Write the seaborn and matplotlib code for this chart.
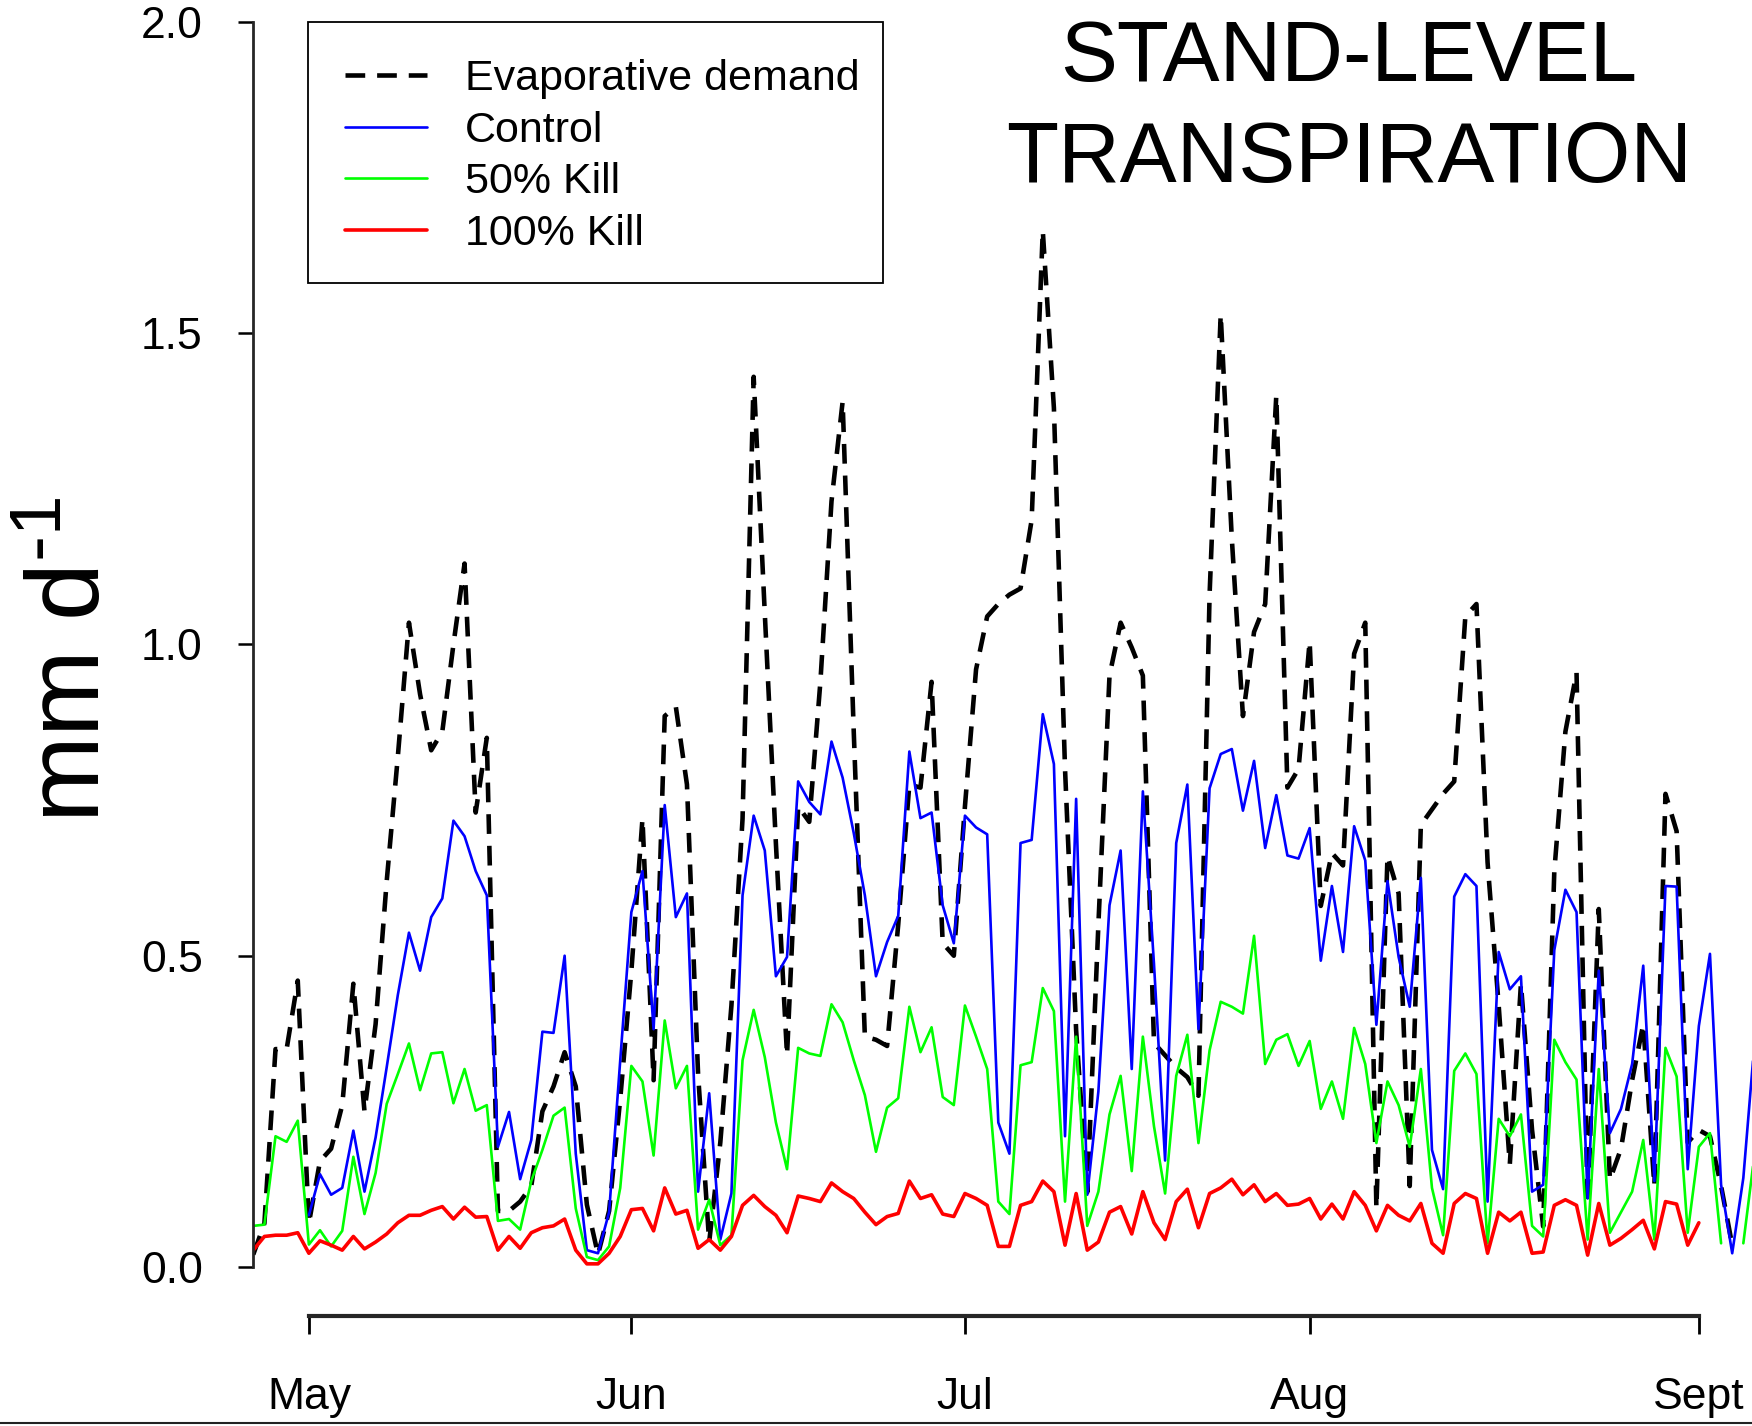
import numpy as np
import pandas as pd
import matplotlib
matplotlib.use("Agg")
import matplotlib.pyplot as plt
from matplotlib.lines import Line2D
from matplotlib.patches import Rectangle
import seaborn as sns

nan = np.nan

# daily values, mm d-1 (one value per day, index 0 = late April)
evap = [0.02, 0.07, 0.35, 0.35, 0.46, 0.07, 0.17, 0.19, 0.26, 0.455,
        0.25, 0.39, 0.62, 0.82, 1.035, 0.92, 0.83, 0.86, 1.00, 1.13,
        0.73, 0.85, 0.09, 0.09, 0.105, 0.13, 0.25, 0.29, 0.345, 0.29,
        0.10, 0.02, 0.09, 0.27, 0.475, 0.72, 0.30, 0.885, 0.90, 0.775,
        0.31, 0.04, 0.20, 0.42, 0.72, 1.43, 1.05, 0.68, 0.34, 0.74,
        0.715, 0.94, 1.23, 1.39, 0.86, 0.37, 0.365, 0.355, 0.55, 0.775,
        0.77, 0.94, 0.52, 0.50, 0.74, 0.96, 1.045, 1.065, 1.08, 1.09,
        1.20, 1.665, 1.38, 0.80, 0.38, 0.12, 0.55, 0.95, 1.035, 0.995,
        0.95, 0.36, 0.34, 0.32, 0.305, 0.275, 1.08, 1.53, 1.17, 0.885,
        1.02, 1.065, 1.40, 0.77, 0.80, 1.005, 0.58, 0.665, 0.645, 0.985,
        1.035, 0.095, 0.66, 0.60, 0.13, 0.71, 0.735, 0.76, 0.78, 1.045,
        1.065, 0.65, 0.42, 0.165, 0.455, 0.22, 0.065, 0.635, 0.86, 0.955,
        0.10, 0.575, 0.14, 0.19, 0.30, 0.39, 0.13, 0.76, 0.70, 0.20,
        0.22, 0.21, 0.13, 0.035, nan, nan]

control = [nan, nan, nan, nan, nan, 0.083, 0.149, 0.116, 0.127, 0.219,
           0.121, 0.208, 0.321, 0.437, 0.537, 0.476, 0.562, 0.592, 0.717, 0.692,
           0.636, 0.597, 0.193, 0.249, 0.141, 0.204, 0.378, 0.376, 0.500, 0.182,
           0.027, 0.022, 0.088, 0.332, 0.570, 0.636, 0.382, 0.742, 0.562, 0.600,
           0.121, 0.279, 0.044, 0.118, 0.597, 0.725, 0.669, 0.467, 0.498, 0.780,
           0.747, 0.727, 0.844, 0.786, 0.697, 0.597, 0.467, 0.522, 0.564, 0.828,
           0.721, 0.730, 0.581, 0.520, 0.725, 0.706, 0.695, 0.232, 0.182, 0.681,
           0.686, 0.888, 0.808, 0.210, 0.752, 0.116, 0.282, 0.581, 0.669, 0.318,
           0.764, 0.487, 0.171, 0.681, 0.775, 0.382, 0.769, 0.824, 0.832, 0.733,
           0.813, 0.673, 0.758, 0.661, 0.656, 0.705, 0.492, 0.612, 0.506, 0.708,
           0.653, 0.389, 0.620, 0.498, 0.418, 0.625, 0.188, 0.125, 0.595, 0.631,
           0.612, 0.105, 0.506, 0.446, 0.467, 0.121, 0.132, 0.509, 0.606, 0.570,
           0.110, 0.476, 0.215, 0.254, 0.326, 0.484, 0.138, 0.612, 0.611, 0.157,
           0.387, 0.503, 0.132, 0.022, 0.143, 0.359]

kill50 = [0.066, 0.068, 0.210, 0.201, 0.235, 0.036, 0.059, 0.033, 0.058, 0.177,
          0.085, 0.151, 0.262, 0.310, 0.359, 0.284, 0.343, 0.345, 0.263, 0.318,
          0.251, 0.260, 0.074, 0.077, 0.060, 0.138, 0.188, 0.243, 0.256, 0.094,
          0.016, 0.011, 0.033, 0.127, 0.323, 0.298, 0.179, 0.396, 0.287, 0.323,
          0.060, 0.108, 0.035, 0.051, 0.332, 0.413, 0.337, 0.232, 0.157, 0.352,
          0.343, 0.339, 0.422, 0.393, 0.332, 0.276, 0.185, 0.256, 0.271, 0.418,
          0.345, 0.385, 0.273, 0.260, 0.420, 0.370, 0.318, 0.105, 0.085, 0.324,
          0.329, 0.448, 0.411, 0.105, 0.370, 0.066, 0.121, 0.245, 0.307, 0.154,
          0.370, 0.226, 0.118, 0.307, 0.373, 0.199, 0.348, 0.426, 0.418, 0.407,
          0.532, 0.326, 0.365, 0.374, 0.323, 0.363, 0.254, 0.298, 0.238, 0.384,
          0.326, 0.199, 0.298, 0.260, 0.193, 0.318, 0.127, 0.051, 0.315, 0.343,
          0.310, 0.038, 0.238, 0.210, 0.245, 0.066, 0.049, 0.365, 0.329, 0.301,
          0.044, 0.318, 0.055, 0.088, 0.121, 0.204, 0.044, 0.352, 0.306, 0.055,
          0.193, 0.215, 0.038, nan, 0.038, 0.18]

kill100 = [0.027, 0.049, 0.051, 0.051, 0.055, 0.022, 0.042, 0.035, 0.027, 0.049,
           0.029, 0.040, 0.053, 0.071, 0.083, 0.083, 0.091, 0.097, 0.077, 0.096,
           0.080, 0.081, 0.027, 0.049, 0.030, 0.055, 0.063, 0.066, 0.077, 0.027,
           0.005, 0.005, 0.022, 0.049, 0.092, 0.094, 0.058, 0.127, 0.085, 0.091,
           0.030, 0.044, 0.027, 0.049, 0.099, 0.115, 0.097, 0.083, 0.055, 0.114,
           0.110, 0.105, 0.135, 0.121, 0.110, 0.088, 0.068, 0.081, 0.086, 0.138,
           0.110, 0.116, 0.085, 0.081, 0.118, 0.110, 0.099, 0.033, 0.033, 0.099,
           0.105, 0.138, 0.121, 0.035, 0.118, 0.027, 0.040, 0.088, 0.097, 0.053,
           0.121, 0.071, 0.044, 0.105, 0.125, 0.063, 0.118, 0.127, 0.141, 0.116,
           0.132, 0.105, 0.118, 0.099, 0.101, 0.110, 0.077, 0.101, 0.077, 0.121,
           0.099, 0.058, 0.099, 0.083, 0.074, 0.102, 0.038, 0.022, 0.102, 0.118,
           0.110, 0.022, 0.088, 0.074, 0.088, 0.022, 0.024, 0.099, 0.108, 0.099,
           0.019, 0.102, 0.035, 0.046, 0.060, 0.075, 0.029, 0.105, 0.101, 0.035,
           0.071, nan, nan, nan, nan, nan]

month_pos = [5, 34, 64, 95, 130]
month_labels = ["May", "Jun", "Jul", "Aug", "Sept"]
y_ticks = [0.0, 0.5, 1.0, 1.5, 2.0]

sns.set_theme(style="ticks")
plt.rcParams["font.family"] = ["Liberation Sans", "DejaVu Sans"]
plt.rcParams["mathtext.default"] = "regular"
plt.rcParams["text.color"] = "black"

W, H = 1752, 1426
fig = plt.figure(figsize=(W / 100, H / 100), dpi=100)
ax = fig.add_axes([252.5 / W, 0.0897, 1 - 252.5 / W, 0.8949])

days = np.arange(len(evap))
series = [
    ("Evaporative demand", evap, "black", 3.3, (0, (4.3, 2.6))),
    ("Control", control, "#0000ff", 1.9, "-"),
    ("50% Kill", kill50, "#00ff00", 1.9, "-"),
    ("100% Kill", kill100, "#ff0000", 2.6, "-"),
]

for name, vals, col, lw, ls in series:
    d = pd.DataFrame({"day": days, "value": vals})
    d["seg"] = d["value"].isna().cumsum()
    d = d.dropna()
    sns.lineplot(data=d, x="day", y="value", units="seg", estimator=None,
                 color=col, lw=lw, linestyle=ls, label=name, legend=False, ax=ax)

ax.set_xlim(-0.07, 134.78)
ax.set_ylim(-0.05, 2.0)
ax.set_xlabel("")
ax.set_ylabel("")

ax.spines[["top", "right"]].set_visible(False)
ax.spines["left"].set_bounds(0, 2)
ax.spines["left"].set_linewidth(2)
ax.spines["bottom"].set_bounds(month_pos[0], month_pos[-1])
ax.spines["bottom"].set_position(("outward", 13))
ax.spines["bottom"].set_linewidth(3)

ax.set_yticks(y_ticks, labels=[f"{v:.1f}" for v in y_ticks])
ax.set_xticks(month_pos, labels=month_labels)
ax.tick_params(axis="y", length=10.8, width=1.8, pad=25, labelsize=32,
               direction="out", color="black", labelcolor="black")
ax.tick_params(axis="x", length=13, width=2, pad=31, labelsize=32,
               direction="out", color="black", labelcolor="black")

# legend, one entry per series; box drawn separately like R's legend()
h, l = ax.get_legend_handles_labels()
uniq = dict(zip(l, h))
leg = ax.legend(uniq.values(), uniq.keys(), loc="upper left",
                bbox_to_anchor=(308 / W, 1 - 22 / H), bbox_transform=fig.transFigure,
                fontsize=31, frameon=False, handlelength=1.9, handletextpad=0.88,
                labelspacing=0.27, borderpad=0.86, borderaxespad=0,
                labelcolor="black")
fig.add_artist(Rectangle((308.4 / W, 1 - 282.7 / H), (882.7 - 308.4) / W,
                         (282.7 - 22.3) / H, transform=fig.transFigure,
                         fill=False, edgecolor="black", lw=1.3))

fig.text(1349 / W, 1 - 80.5 / H, "STAND-LEVEL", ha="center", va="baseline",
         fontsize=61.5, color="black")
fig.text(1349 / W, 1 - 182 / H, "TRANSPIRATION", ha="center", va="baseline",
         fontsize=61.5, color="black")
fig.text(100.5 / W, 1 - 660 / H, r"mm d$^{\text{-}1}$", rotation=90,
         rotation_mode="anchor", ha="center", va="baseline", fontsize=75,
         color="black")

fig.add_artist(Line2D([0, 1], [0.002, 0.002], transform=fig.transFigure,
                      color="#222222", lw=1.5))

fig.savefig("out.png", dpi=100)
